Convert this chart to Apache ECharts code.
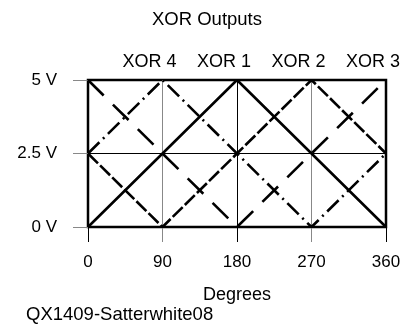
<!DOCTYPE html>
<html><head><meta charset="utf-8">
<script src="https://cdn.jsdelivr.net/npm/echarts@6/dist/echarts.min.js"></script>
<style>html,body{margin:0;padding:0;background:#fff}#c{width:414px;height:336px}</style>
</head><body><div id="c"></div>
<script>
const degrees = [0, 90, 180, 270, 360];
const xor1 = [0, 2.5, 5, 2.5, 0];
const xor2 = [2.5, 0, 2.5, 5, 2.5];
const xor3 = [5, 2.5, 0, 2.5, 5];
const xor4 = [2.5, 5, 2.5, 0, 2.5];
const peakDegrees = [90, 180, 270, 360];
const peakNames = ['XOR 4', 'XOR 1', 'XOR 2', 'XOR 3'];
const yTicks = [0, 2.5, 5];

const FONT = '"Liberation Sans", Arial, sans-serif';
const pts = arr => degrees.map((d, i) => [d, arr[i]]);

const chart = echarts.init(document.getElementById('c'), null, {renderer: 'canvas'});
const lineS = (name, arr, type) => ({
  name, type: 'line', data: pts(arr), showSymbol: false, animation: false, z: 5,
  lineStyle: {color: '#000', width: 2.6, type: type, cap: 'butt'}
});
chart.setOption({
  animation: false,
  title: {text: 'XOR Outputs', left: 'center', top: 5,
    textStyle: {fontFamily: FONT, fontSize: 18.5, fontWeight: 'normal', color: '#000'}},
  grid: {left: 88, right: 28, top: 80, bottom: 109, show: true, borderColor: '#000', borderWidth: 2.5},
  xAxis: [{
    type: 'value', min: 0, max: 360, interval: 90, position: 'bottom',
    name: 'Degrees', nameLocation: 'middle', nameGap: 59,
    nameTextStyle: {fontFamily: FONT, fontSize: 18, color: '#000'},
    axisLine: {show: false},
    axisTick: {show: true, length: 15, lineStyle: {color: '#888', width: 1}},
    axisLabel: {fontFamily: FONT, fontSize: 17, color: '#000', margin: 27},
    splitLine: {show: true, lineStyle: {color: ['#000', '#888', '#000', '#888', '#000'], width: 1}}
  }, {
    type: 'value', min: 0, max: 360, interval: 180, position: 'bottom',
    axisLine: {show: false},
    axisTick: {show: true, length: 15, lineStyle: {color: '#000', width: 1}},
    axisLabel: {show: false}, splitLine: {show: false}
  }, {
    type: 'value', min: 0, max: 360, interval: 90, position: 'top',
    axisLine: {show: false}, axisTick: {show: false}, splitLine: {show: false},
    axisLabel: {fontFamily: FONT, fontSize: 18, color: '#000', margin: 9,
      padding: [0, 26, 0, 0],
      formatter: v => { const i = peakDegrees.indexOf(v); return i >= 0 ? peakNames[i] : ''; }}
  }],
  yAxis: {
    type: 'value', min: yTicks[0], max: yTicks[yTicks.length - 1], interval: 2.5,
    axisLine: {show: false},
    axisTick: {show: true, length: 15, lineStyle: {color: '#888', width: 1}},
    axisLabel: {fontFamily: FONT, fontSize: 17, color: '#000', margin: 31, formatter: v => v + ' V'},
    splitLine: {show: true, lineStyle: {color: '#000', width: 1}}
  },
  graphic: [{type: 'text', left: 26, top: 305,
    style: {text: 'QX1409-Satterwhite08', fontFamily: FONT, fontSize: 18.5, fill: '#000'}}],
  series: [
    lineS('XOR 1', xor1, 'solid'),
    lineS('XOR 2', xor2, [14, 3]),
    lineS('XOR 3', xor3, [22, 13]),
    lineS('XOR 4', xor4, [16, 5, 2, 5])
  ]
});
</script></body></html>
